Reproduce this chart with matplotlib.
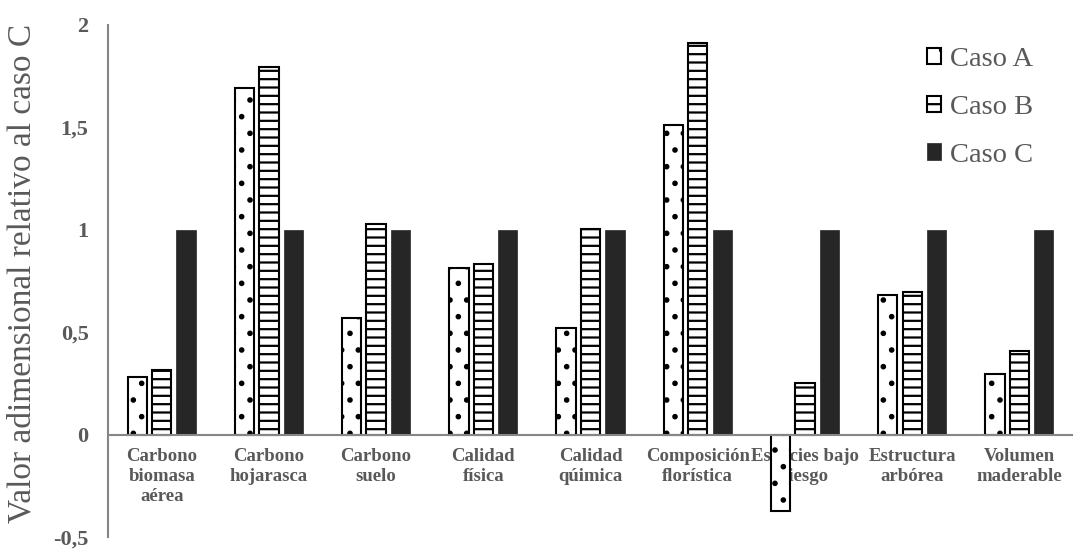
import matplotlib
matplotlib.use("Agg")
import matplotlib.pyplot as plt
import numpy as np

categories = ["Carbono\nbiomasa\naérea", "Carbono\nhojarasca", "Carbono\nsuelo",
              "Calidad\nfísica", "Calidad\nqúimica", "Composición\nflorística",
              "Especies bajo\nriesgo", "Estructura\narbórea", "Volumen\nmaderable"]
caso_a = [0.28, 1.69, 0.57, 0.815, 0.52, 1.51, -0.375, 0.68, 0.295]
caso_b = [0.317, 1.797, 1.03, 0.833, 1.005, 1.91, 0.252, 0.698, 0.406]
caso_c = [1, 1, 1, 1, 1, 1, 1, 1, 1]
series_names = ["Caso A", "Caso B", "Caso C"]
yticks = [-0.5, 0, 0.5, 1, 1.5, 2]
ytick_labels = ["-0,5", "0", "0,5", "1", "1,5", "2"]

plt.rcParams['font.family'] = ['Liberation Serif', 'DejaVu Serif']
plt.rcParams['hatch.linewidth'] = 1.6
plt.rcParams['hatch.color'] = 'black'

gray = '#595959'
axis_gray = '#868686'

fig = plt.figure(figsize=(10.73, 5.49), dpi=100)
ax = fig.add_axes([0.1007, 0.0219, 0.8993, 0.9326])

x = np.arange(len(categories))
pitch = 0.228
width = 0.18

ax.bar(x - pitch, caso_a, width, color='white', edgecolor='black', linewidth=1.5,
       hatch='.', label=series_names[0], zorder=3)
ax.bar(x, caso_b, width, color='white', edgecolor='black', linewidth=1.5,
       hatch='--', label=series_names[1], zorder=3)
ax.bar(x + pitch, caso_c, width, color='#262626', edgecolor='#262626', linewidth=0.5,
       label=series_names[2], zorder=3)

ax.set_xlim(-0.5, len(categories) - 0.5)
ax.set_ylim(-0.5, 2)

ax.spines['top'].set_visible(False)
ax.spines['right'].set_visible(False)
ax.spines['left'].set_color(axis_gray)
ax.spines['bottom'].set_color(axis_gray)
ax.spines['left'].set_linewidth(1.5)
ax.spines['bottom'].set_linewidth(1.5)
ax.spines['bottom'].set_position(('data', 0))
ax.spines['bottom'].set_zorder(4)

ax.set_xticks(x)
ax.set_xticklabels(categories, fontsize=13.5, fontweight='bold', color=gray,
                   linespacing=1.2)
ax.set_yticks(yticks)
ax.set_yticklabels(ytick_labels, fontsize=16, fontweight='bold', color=gray)
ax.tick_params(axis='x', length=0, pad=10)
ax.tick_params(axis='y', length=0, pad=14)

ax.set_ylabel("Valor adimensional relativo al caso C", fontsize=24, color=gray)
ax.yaxis.set_label_coords(-0.0736, 0.515)

leg = ax.legend(loc='upper right', bbox_to_anchor=(0.985, 1.007), frameon=False,
                fontsize=20.5, handlelength=0.5, handleheight=0.5,
                handletextpad=0.3, labelspacing=0.8)
for t in leg.get_texts():
    t.set_color(gray)

fig.savefig("out.png", dpi=100)
